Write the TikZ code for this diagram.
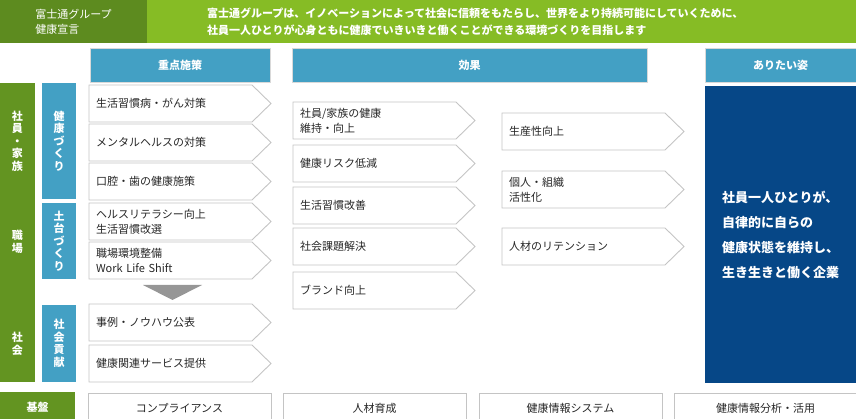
\documentclass[tikz,border=0pt]{standalone}
\usepackage{fontspec}
\setmainfont{Noto Sans CJK JP}
\usetikzlibrary{calc}
\definecolor{declgreen}{RGB}{93,139,31}
\definecolor{bannergreen}{RGB}{134,188,37}
\definecolor{colgreen}{RGB}{99,148,33}
\definecolor{headblue}{RGB}{67,160,196}
\definecolor{goalblue}{RGB}{6,71,135}
\definecolor{boxline}{RGB}{196,196,196}
\definecolor{boxtext}{RGB}{38,38,38}
\definecolor{downgray}{RGB}{150,150,150}

\begin{document}
\begin{tikzpicture}[x=1pt,y=-1pt,
  every node/.style={inner sep=0pt,outer sep=0pt},
  txt/.style={font=\fontsize{11}{15}\selectfont},
  head/.style={fill=headblue,draw=black!15,text=white,minimum height=34pt,anchor=north west,
    font=\bfseries\fontsize{11}{15}\selectfont},
  vcol/.style={anchor=north west,minimum width=34pt,text=white,align=center,font=\bfseries\fontsize{11}{12.5}\selectfont},
  arrbox/.style={anchor=north west,minimum height=37pt,text width=149pt,inner xsep=7pt,align=left,text=boxtext,txt},
  basebox/.style={anchor=north west,draw=boxline,line width=0.9pt,minimum width=183pt,minimum height=30pt,text=boxtext,txt},
  outline/.style={draw=boxline,line width=0.9pt}]
  \useasboundingbox (0,0) rectangle (856,419);

  % declaration
  \node[fill=declgreen,minimum width=147pt,minimum height=43pt,anchor=north west,
        text=white,align=left,txt] (decl) at (0,0) {富士通グループ\\健康宣言};
  \node[fill=bannergreen,minimum width=709pt,minimum height=43pt,anchor=north west,
        text width=589pt,inner xsep=60pt,text=white,align=left,
        font=\bfseries\fontsize{11}{17}\selectfont] (banner) at (147,0)
        {富士通グループは、イノベーションによって社会に信頼をもたらし、世界をより持続可能にしていくために、\\
         社員一人ひとりが心身ともに健康でいきいきと働くことができる環境づくりを目指します};

  % column heads
  \node[head,minimum width=180pt] (hpolicy) at (90,48) {重点施策};
  \node[head,minimum width=355pt] (heffect) at (292,48) {効果};
  \node[head,minimum width=151pt] (hgoal) at (705,48) {ありたい姿};

  % left columns
  \node[fill=colgreen,minimum width=35pt,minimum height=299pt,anchor=north west] (scope) at (0,83) {};
  \node[vcol,anchor=center] (sfam) at (17.5,141) {社\\員\\・\\家\\族};
  \node[vcol,anchor=center] (swork) at (17.5,242) {職\\場};
  \node[vcol,anchor=center] (ssoc) at (17.5,344) {社\\会};

  \node[vcol,fill=headblue,minimum height=116pt] (kenko) at (42,83) {健\\康\\づ\\く\\り};
  \node[vcol,fill=headblue,minimum height=76pt] (dodai) at (42,203) {土\\台\\づ\\く\\り};
  \node[vcol,fill=headblue,minimum height=77pt] (koken) at (42,305) {社\\会\\貢\\献};

  % policies
  \node[arrbox] (p1) at (89,85) {生活習慣病・がん対策};
  \node[arrbox] (p2) at (89,124) {メンタルヘルスの対策};
  \node[arrbox] (p3) at (89,163) {口腔・歯の健康施策};
  \node[arrbox] (p4) at (89,203) {ヘルスリテラシー向上\\生活習慣改選};
  \node[arrbox] (p5) at (89,242) {職場環境整備\\Work Life Shift};
  \fill[downgray] (143,285) -- (202,285) -- (172.5,300) -- cycle;
  \node[arrbox] (p6) at (89,304) {事例・ノウハウ公表};
  \node[arrbox] (p7) at (89,345) {健康関連サービス提供};

  % effects
  \node[arrbox] (e1) at (293,102) {社員/家族の健康\\維持・向上};
  \node[arrbox] (e2) at (293,145) {健康リスク低減};
  \node[arrbox] (e3) at (293,187) {生活習慣改善};
  \node[arrbox] (e4) at (293,228) {社会課題解決};
  \node[arrbox] (e5) at (293,272) {ブランド向上};

  \node[arrbox] (r1) at (502,113) {生産性向上};
  \node[arrbox] (r2) at (502,171) {個人・組織\\活性化};
  \node[arrbox] (r3) at (502,228) {人材のリテンション};

  \foreach \n in {p1,p2,p3,p4,p5,p6,p7,e1,e2,e3,e4,e5,r1,r2,r3}
    \draw[outline] (\n.north west) -- (\n.north east) -- ([xshift=19pt]\n.east)
      -- (\n.south east) -- (\n.south west) -- cycle;

  % goal
  \node[fill=goalblue,minimum width=151pt,minimum height=297pt,anchor=north west] (goal) at (705,86) {};
  \node[text=white,align=left,font=\bfseries\fontsize{13}{25}\selectfont] (goaltext) at (goal.center)
    {社員一人ひとりが、\\自律的に自らの\\健康状態を維持し、\\生き生きと働く企業};

  % foundation
  \node[fill=colgreen,minimum width=75pt,minimum height=30pt,anchor=north west,
        text=white,font=\bfseries\fontsize{11}{15}\selectfont] (kiban) at (0,392) {基盤};
  \node[basebox] (b1) at (88,393) {コンプライアンス};
  \node[basebox] (b2) at (283,393) {人材育成};
  \node[basebox] (b3) at (479,393) {健康情報システム};
  \node[basebox] (b4) at (674,393) {健康情報分析・活用};
\end{tikzpicture}
\end{document}
